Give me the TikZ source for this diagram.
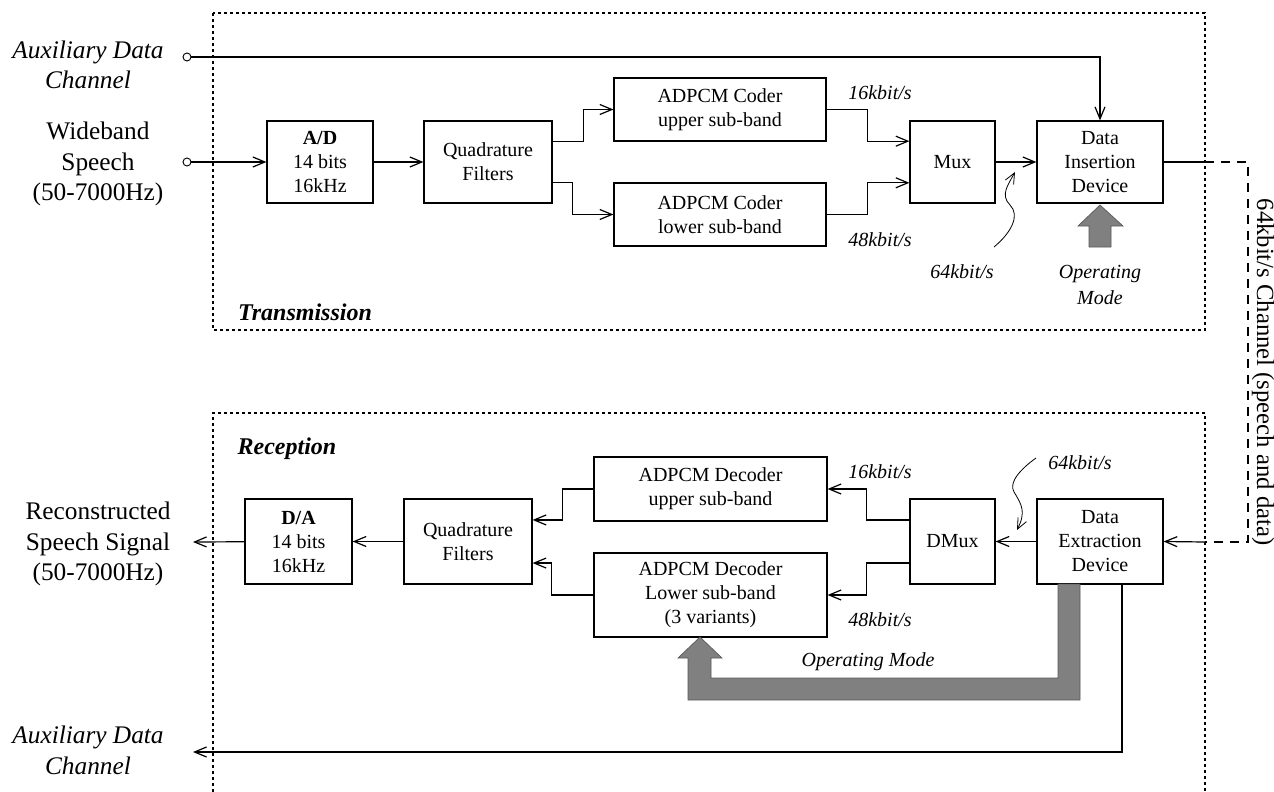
\documentclass[tikz,border=0pt]{standalone}
\usepackage{fontspec}
\setmainfont{Liberation Serif}
\usetikzlibrary{arrows.meta,calc}
\begin{document}
\begin{tikzpicture}[x=0.75pt,y=-0.75pt,
  blk/.style={draw,line width=0.9pt,rectangle,inner sep=0pt,align=center,font=\fontsize{15}{18}\selectfont},
  lbl/.style={align=center,font=\fontsize{19}{23}\selectfont},
  ilbl/.style={align=center,font=\fontsize{19}{23}\selectfont\itshape},
  ttl/.style={font=\fontsize{18}{22}\selectfont\bfseries\itshape},
  rate/.style={font=\fontsize{15}{18}\selectfont\itshape},
  conn/.style={line width=0.9pt,-{Straight Barb[length=9pt,width=7.5pt]}},
  wire/.style={line width=0.9pt},
  region/.style={line width=0.9pt,dash pattern=on 2pt off 2.5pt},
  chan/.style={line width=0.9pt,dash pattern=on 7pt off 5pt},
  squig/.style={line width=0.6pt,-{Straight Barb[length=8pt,width=7pt]}},
  modearrow/.style={fill=black!50,draw=black!65,line width=0.5pt},
  terminal/.style={draw,circle,line width=0.7pt,inner sep=0pt,minimum size=6pt}
]
\useasboundingbox (0,0) rectangle (1274,792);

% regions
\draw[region] (213,13) rectangle (1205,330);
\draw[region] (213,792) -- (213,413) -- (1205,413) -- (1205,792);
\node[ttl] (tx) at (305,312) {Transmission};
\node[ttl] (rx) at (287,449) {Reception};

% ---------- transmission ----------
\node[ilbl] (auxinl) at (88,65) {Auxiliary Data\\Channel};
\node[lbl] (wbl) at (98,164) {Wideband\\Speech\\(50-7000Hz)};
\node[terminal] (auxin) at (187,57) {};
\node[terminal] (wbin) at (187,162) {};

\node[blk,minimum width=79.5pt,minimum height=61.5pt] (ad) at (320,162) {\textbf{A/D}\\14 bits\\16kHz};
\node[blk,minimum width=96pt,minimum height=61.5pt] (qft) at (488,162) {Quadrature\\Filters};
\node[blk,minimum width=159pt,minimum height=47.25pt] (cu) at (720,109.5) {ADPCM Coder\\upper sub-band};
\node[blk,minimum width=159pt,minimum height=47.25pt] (cl) at (720,214.5) {ADPCM Coder\\lower sub-band};
\node[blk,minimum width=63.75pt,minimum height=61.5pt] (mux) at (952.5,162) {Mux};
\node[blk,minimum width=94.5pt,minimum height=61.5pt] (di) at (1100,162) {Data\\Insertion\\Device};

\draw[conn] (wbin) -- (ad.west);
\draw[conn] (ad) -- (qft);
\draw[conn] ($(qft.north east)!0.25!(qft.south east)$) -- ++(31,0) |- (cu.west);
\draw[conn] ($(qft.north east)!0.75!(qft.south east)$) -- ++(20,0) |- (cl.west);
\draw[conn] (cu.east) -- ++(41,0) |- ($(mux.north west)!0.25!(mux.south west)$);
\draw[conn] (cl.east) -- ++(41,0) |- ($(mux.north west)!0.75!(mux.south west)$);
\draw[conn] (mux) -- (di);
\draw[conn] (auxin) -| (di.north);

\node[rate] (r16t) at (880,93) {16kbit/s};
\node[rate] (r48t) at (880,240) {48kbit/s};
\node[rate] (r64t) at (962,272) {64kbit/s};
\coordinate (s1) at (994,247);
\coordinate (s1t) at (1015,172);
\draw[squig] (s1) .. controls (1012,232) and (1020,215) .. (1010,205)
  .. controls (1000,195) and (1008,185) .. (s1t);

\draw[modearrow] (1089,247) -- (1089,226) -- (1078,226) -- (1100,205) -- (1123,226) -- (1111,226) -- (1111,247) -- cycle;
\node[align=center,font=\fontsize{15}{19.5}\selectfont\itshape] (omt) at (1100,285) {Operating\\Mode};

% channel
\coordinate (c1) at (1205,162);
\coordinate (c2) at (1248,162);
\coordinate (c3) at (1248,542);
\coordinate (c4) at (1205,542);
\draw[wire] (di.east) -- (c1);
\draw[chan] (c1) -- (c2) -- (c3) -- (c4);
\node[rotate=-90,font=\fontsize{18.5}{22}\selectfont,inner sep=1pt] (chl) at (1263,372) {64kbit/s Channel (speech and data)};

% ---------- reception ----------
\node[blk,minimum width=94.5pt,minimum height=63.75pt] (de) at (1100,541.5) {Data\\Extraction\\Device};
\node[blk,minimum width=63.75pt,minimum height=63.75pt] (dmux) at (952.5,541.5) {DMux};
\node[blk,minimum width=174.75pt,minimum height=48pt] (du) at (710.5,489) {ADPCM Decoder\\upper sub-band};
\node[blk,minimum width=174.75pt,minimum height=63pt] (dl) at (710.5,595) {ADPCM Decoder\\Lower sub-band\\(3 variants)};
\node[blk,minimum width=96pt,minimum height=63.75pt] (qfb) at (468,541.5) {Quadrature\\Filters};
\node[blk,minimum width=80.25pt,minimum height=63.75pt] (da) at (298.5,541.5) {\textbf{D/A}\\14 bits\\16kHz};

\node[lbl] (rsl) at (98,544) {Reconstructed\\Speech Signal\\(50-7000Hz)};
\node[ilbl] (auxoutl) at (88,750) {Auxiliary Data\\Channel};
\coordinate (rsout) at (193,542);
\coordinate (auxout) at (193,752);

\draw[conn] (c4) -- (de.east);
\draw[conn] (de) -- (dmux);
\draw[conn] ($(dmux.north west)!0.25!(dmux.south west)$) -- ++(-43,0) |- (du.east);
\draw[conn] ($(dmux.north west)!0.75!(dmux.south west)$) -- ++(-43,0) |- (dl.east);
\draw[conn] (du.west) -- ++(-31,0) |- ($(qfb.north east)!0.25!(qfb.south east)$);
\draw[conn] (dl.west) -- ++(-42,0) |- ($(qfb.north east)!0.75!(qfb.south east)$);
\draw[conn] (qfb) -- (da);
\draw[conn] (da) -- (rsout);
\draw[conn] ($(de.south)+(22,0)$) |- (auxout);

\node[rate] (r16b) at (880,472) {16kbit/s};
\node[rate] (r48b) at (880,620) {48kbit/s};
\node[rate] (r64b) at (1080,463) {64kbit/s};
\coordinate (s2) at (1036,458);
\coordinate (s2t) at (1017,530);
\draw[squig] (s2) .. controls (1022,468) and (1008,482) .. (1014,492)
  .. controls (1022,505) and (1026,512) .. (s2t);

\draw[modearrow] (1058,584) -- (1080,584) -- (1080,700) -- (688,700) -- (688,658) -- (678,658) -- (700,637) -- (722,658) -- (711,658) -- (711,678) -- (1058,678) -- cycle;
\node[rate] (omb) at (868,662) {Operating Mode};
\end{tikzpicture}
\end{document}
